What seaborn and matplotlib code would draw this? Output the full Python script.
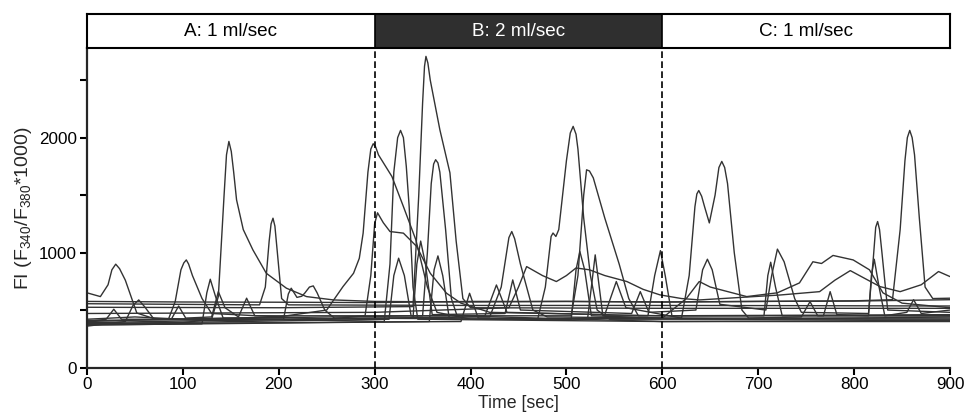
import matplotlib
matplotlib.use("Agg")
import matplotlib.pyplot as plt
import pandas as pd
import seaborn as sns

cell_01_t = [0, 14, 22, 26, 30, 34, 40, 52, 70, 150, 250, 300, 420, 432, 440, 443, 446, 452, 465, 480, 600, 700, 800, 900]
cell_01_v = [650, 617, 720, 850, 899, 860, 760, 474, 425, 410, 420, 430, 440, 700, 1130, 1183, 1120, 900, 500, 440, 430, 420, 430, 440]

cell_02_t = [0, 100, 130, 137, 143, 145.5, 148, 150.5, 153, 156, 163, 173, 187, 208, 229, 257, 300, 400, 500, 600, 700, 800, 900]
cell_02_v = [380, 390, 420, 617, 1500, 1850, 1967, 1880, 1700, 1459, 1200, 1024, 820, 690, 617, 588, 575, 570, 575, 570, 575, 578, 590]

cell_03_t = [0, 100, 200, 300, 400, 500, 600, 700, 800, 840, 848, 853, 855.5, 858, 860.5, 863, 868, 874, 882, 900]
cell_03_v = [575, 570, 568, 565, 575, 575, 570, 575, 580, 590, 1200, 1800, 2000, 2063, 2000, 1850, 1300, 700, 600, 603]

cell_04_t = [0, 180, 186, 190, 192, 194, 196, 198, 203, 210, 400, 600, 750, 900]
cell_04_v = [555, 545, 700, 1100, 1250, 1299, 1230, 1050, 600, 545, 540, 540, 538, 535]

cell_05_t = [0, 200, 340, 346, 350, 352, 353.5, 355.5, 358, 368, 378.5, 385, 392, 400, 600, 900]
cell_05_v = [524, 520, 530, 1500, 2300, 2620, 2707, 2650, 2500, 2069, 1694, 1100, 600, 520, 515, 515]

cell_06_t = [0, 50, 100, 200, 250, 267, 278, 284, 288, 293, 296, 298.5, 301, 304, 318, 330, 343, 355, 365, 400, 600, 900]
cell_06_v = [420, 440, 420, 440, 500, 704, 820, 950, 1169, 1700, 1900, 1947, 1920, 1850, 1662, 1400, 1110, 700, 480, 420, 430, 430]

cell_07_t = [0, 85, 92, 98, 101, 103.6, 106, 110, 120, 130, 250, 290, 296, 300, 303, 309, 316, 330, 344, 358, 375, 390, 420, 600, 900]
cell_07_v = [400, 420, 573, 850, 910, 936, 900, 800, 600, 470, 420, 450, 800, 1250, 1346, 1260, 1183, 1169, 1052, 820, 646, 560, 480, 450, 460]

cell_08_t = [0, 120, 125, 128.6, 134, 142, 310, 316, 320, 324, 327, 330, 333, 336, 340, 345, 600, 900]
cell_08_v = [370, 380, 650, 768, 620, 430, 400, 900, 1700, 2000, 2063, 2000, 1750, 1400, 700, 420, 400, 410]

cell_09_t = [0, 40, 48, 54, 60, 70, 350, 355, 359, 361.5, 363.6, 366, 368, 374, 380, 386, 600, 900]
cell_09_v = [360, 400, 540, 588, 530, 420, 450, 1000, 1600, 1770, 1808, 1780, 1700, 1200, 600, 450, 400, 400]

cell_10_t = [0, 205, 210, 213, 219, 224, 227, 232, 236, 240, 248, 258, 470, 478, 484, 486, 489, 492, 500, 504, 507, 510, 512, 518, 525, 532, 545, 900]
cell_10_v = [390, 420, 640, 690, 610, 620, 646, 700, 710, 650, 500, 430, 420, 700, 1140, 1170, 1140, 1200, 1800, 2040, 2098, 2030, 1900, 1300, 800, 500, 420, 420]

cell_11_t = [0, 20, 28, 36, 88, 95.6, 103, 130, 137, 144, 158, 166.5, 175, 505, 512, 518, 521, 524, 528, 540, 555, 565, 575, 900]
cell_11_v = [400, 420, 507, 420, 420, 535, 430, 440, 660, 520, 440, 603, 450, 450, 800, 1500, 1720, 1710, 1650, 1300, 900, 600, 450, 450]

cell_12_t = [0, 300, 440, 450, 458.5, 475, 489.5, 500, 510, 524, 540, 563, 580, 597.5, 620, 639, 723, 764, 780, 796, 810, 827, 848, 870, 888, 900]
cell_12_v = [470, 480, 520, 700, 878, 800, 748, 800, 866, 850, 800, 748, 680, 632, 600, 588, 631, 660, 760, 843, 780, 704, 660, 720, 835, 791]

cell_13_t = [0, 315, 320, 325, 331, 338, 415, 427, 438, 540, 552, 562, 620, 628, 634, 636, 638, 641, 644, 649, 655, 659, 662, 665, 668, 675, 683, 690, 745, 754, 762, 900]
cell_13_v = [380, 420, 800, 951, 800, 450, 450, 718, 480, 460, 748, 520, 430, 800, 1400, 1510, 1540, 1490, 1400, 1258, 1500, 1740, 1793, 1740, 1600, 1000, 500, 430, 440, 573, 450, 450]

cell_14_t = [0, 340, 344, 348, 353, 360, 436, 444, 452, 568, 577, 586, 635, 642, 647, 652, 660, 708, 714, 720, 727, 738, 745, 815, 820, 822.5, 824.5, 826.5, 829, 835, 900]
cell_14_v = [410, 430, 900, 1100, 900, 460, 470, 762, 500, 470, 660, 480, 500, 850, 942, 850, 550, 500, 800, 1030, 920, 600, 480, 470, 950, 1220, 1270, 1200, 1000, 500, 480]

cell_15_t = [0, 357, 362, 366, 371, 378, 505, 510, 514, 519, 526, 600, 625, 638.5, 650, 688, 720, 743, 757, 766, 778, 799, 816, 830, 850, 900]
cell_15_v = [370, 400, 850, 971, 800, 420, 420, 850, 1009, 850, 450, 430, 600, 748, 700, 617, 650, 736, 920, 905, 975, 936, 850, 650, 560, 520]

cell_16_t = [0, 390, 399, 408, 522, 530, 538, 585, 592, 598, 603, 610, 706, 710, 713, 718, 725, 768, 775, 782, 815, 818, 821, 826, 832, 855, 862, 870, 900]
cell_16_v = [380, 400, 646, 430, 420, 980, 450, 450, 800, 1017, 800, 450, 450, 800, 916, 700, 450, 450, 660, 460, 450, 800, 942, 700, 450, 480, 590, 470, 500]

cells = {
    "cell 01": (cell_01_t, cell_01_v), "cell 02": (cell_02_t, cell_02_v),
    "cell 03": (cell_03_t, cell_03_v), "cell 04": (cell_04_t, cell_04_v),
    "cell 05": (cell_05_t, cell_05_v), "cell 06": (cell_06_t, cell_06_v),
    "cell 07": (cell_07_t, cell_07_v), "cell 08": (cell_08_t, cell_08_v),
    "cell 09": (cell_09_t, cell_09_v), "cell 10": (cell_10_t, cell_10_v),
    "cell 11": (cell_11_t, cell_11_v), "cell 12": (cell_12_t, cell_12_v),
    "cell 13": (cell_13_t, cell_13_v), "cell 14": (cell_14_t, cell_14_v),
    "cell 15": (cell_15_t, cell_15_v), "cell 16": (cell_16_t, cell_16_v),
}

phase_edges = [0, 300, 600, 900]
phase_labels = ["A: 1 ml/sec", "B: 2 ml/sec", "C: 1 ml/sec"]
phase_dark = [False, True, False]

rows = []
for name, (ts, vs) in cells.items():
    for t, v in zip(ts, vs):
        rows.append({"cell": name, "time": t, "fi": v})
df = pd.DataFrame(rows)

sns.set_style("ticks")
plt.rcParams["font.family"] = ["Liberation Sans", "DejaVu Sans"]
plt.rcParams["mathtext.fontset"] = "custom"
plt.rcParams["mathtext.rm"] = "Liberation Sans"
plt.rcParams["mathtext.it"] = "Liberation Sans"

fig = plt.figure(figsize=(9.64, 4.18), dpi=100)
ax = fig.add_axes([0.0902, 0.1208, 0.8953, 0.7644])
head = fig.add_axes([0.0902, 0.885, 0.8953, 0.0815])

sns.lineplot(data=df, x="time", y="fi", units="cell", estimator=None, sort=False,
             color="#333333", linewidth=1.0, ax=ax)

for edge in phase_edges[1:-1]:
    ax.axvline(edge, color="black", linestyle=(0, (4, 2)), linewidth=1.2, zorder=5)

ax.set_xlim(0, 900)
ax.set_ylim(0, 2780)
ax.set_xticks(range(0, 901, 100))
ax.set_yticks([0, 500, 1000, 1500, 2000, 2500])
ax.set_yticklabels(["0", "", "1000", "", "2000", ""])
ax.tick_params(labelsize=12.3, width=1.5, length=5, colors="black", pad=2)
for side in ["left", "bottom"]:
    ax.spines[side].set_linewidth(1.6)
sns.despine(ax=ax)
ax.set_xlabel("Time [sec]", fontsize=12.8, labelpad=2)
ax.set_ylabel(r"FI (F$_{340}$/F$_{380}$*1000)", fontsize=14, labelpad=4)

# header band with the three flow phases
for i, label in enumerate(phase_labels):
    lo, hi = phase_edges[i], phase_edges[i + 1]
    if phase_dark[i]:
        head.axvspan(lo, hi, color="#2f2f2f", lw=0)
    head.text((lo + hi) / 2, 0.5, label, ha="center", va="center", fontsize=13.6,
              color="white" if phase_dark[i] else "black")
for edge in phase_edges[1:-1]:
    head.axvline(edge, color="black", linewidth=1.2)
head.set_xlim(0, 900)
head.set_ylim(0, 1)
head.set_xticks([])
head.set_yticks([])
for s in head.spines.values():
    s.set_visible(True)
    s.set_linewidth(1.5)
    s.set_color("black")

fig.savefig("out.png", dpi=100)
